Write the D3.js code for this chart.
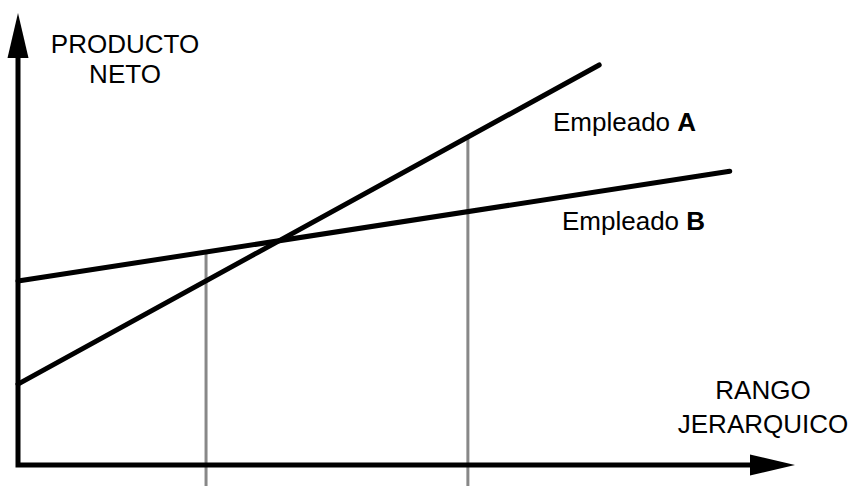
<!DOCTYPE html>
<html lang="en">

<head>
	<meta charset="utf-8">
	<script src='https://d3js.org/d3.v7.min.js'></script>
	<style>
		body { margin: 0; background: #fff; }
		text { font-family: "Liberation Sans", Arial, sans-serif; font-size: 26px; fill: #000; }
	</style>
</head>

<body>
	<script>
    // the two lines (rango jerarquico vs producto neto), arbitrary units 0..100
    const empleadoA = [
      {x: 0, y: 17.9}, {x: 74.8, y: 88.5}
    ];
    const empleadoB = [
      {x: 0, y: 40.7}, {x: 91.6, y: 65.0}
    ];
    // vertical reference lines on the x axis
    const cortes = [24.2, 57.9];
    const yTitle = ['PRODUCTO', 'NETO'];
    const xTitle = ['RANGO', 'JERARQUICO'];

    const width = 851;
    const height = 487;

    const svg = d3.select("body")
      .append("svg")
      .attr('width', width)
      .attr('height', height);

    const x = d3.scaleLinear().domain([0, 100]).range([18, 795]);
    const y = d3.scaleLinear().domain([0, 100]).range([465, 13]);

    const lineA = d3.line().x(d => x(d.x)).y(d => y(d.y));

    // value of a straight line at xv
    function at(data, xv) {
      const a = data[0], b = data[1];
      return a.y + (b.y - a.y) * (xv - a.x) / (b.x - a.x);
    }

    // gray verticals, from the upper line down past the axis
    svg.selectAll('.corte')
      .data(cortes)
      .enter().append('line')
      .attr('class', 'corte')
      .attr('x1', d => x(d)).attr('x2', d => x(d))
      .attr('y1', d => y(Math.max(at(empleadoA, d), at(empleadoB, d))))
      .attr('y2', y(0) + 21)
      .attr('stroke', '#888')
      .attr('stroke-width', 3);

    // the two employee lines
    [empleadoA, empleadoB].forEach(data => {
      svg.append('path')
        .datum(data)
        .attr('fill', 'none')
        .attr('stroke', '#000')
        .attr('stroke-width', 5)
        .attr('stroke-linecap', 'round')
        .attr('d', lineA);
    });

    // axes with arrow heads
    const head = 45, half = 10.5;
    svg.append('path')
      .attr('fill', 'none')
      .attr('stroke', '#000')
      .attr('stroke-width', 5)
      .attr('d', `M${x(0)},${y(100) + head}L${x(0)},${y(0)}L${x(100) - head},${y(0)}`);
    svg.append('path')
      .attr('fill', '#000')
      .attr('d', `M${x(0)},${y(100)}L${x(0) - half},${y(100) + head}L${x(0) + half},${y(100) + head}Z`);
    svg.append('path')
      .attr('fill', '#000')
      .attr('d', `M${x(100)},${y(0)}L${x(100) - head},${y(0) - half}L${x(100) - head},${y(0) + half}Z`);

    // axis titles
    svg.append('text')
      .attr('text-anchor', 'middle')
      .selectAll('tspan')
      .data(yTitle)
      .enter().append('tspan')
      .attr('x', 125)
      .attr('y', (d, i) => 53 + i * 30)
      .text(d => d);

    svg.append('text')
      .attr('text-anchor', 'middle')
      .selectAll('tspan')
      .data(xTitle)
      .enter().append('tspan')
      .attr('x', 763)
      .attr('y', (d, i) => 399 + i * 34)
      .text(d => d);

    // line labels
    const lbA = svg.append('text').attr('x', 553).attr('y', 131);
    lbA.append('tspan').text('Empleado ');
    lbA.append('tspan').attr('font-weight', 'bold').text('A');

    const lbB = svg.append('text').attr('x', 562).attr('y', 230);
    lbB.append('tspan').text('Empleado ');
    lbB.append('tspan').attr('font-weight', 'bold').text('B');
	</script>

</body>

</html>
